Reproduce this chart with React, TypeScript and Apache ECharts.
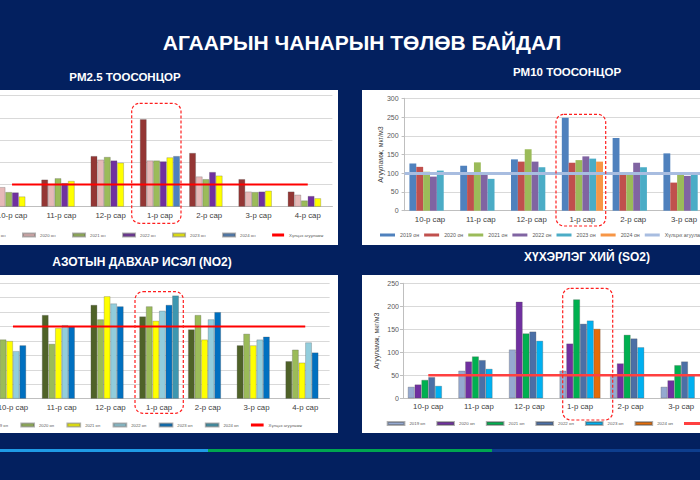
import React, { useEffect, useRef } from 'react';
import * as echarts from 'echarts';

const months = ['10-р сар', '11-р сар', '12-р сар', '1-р сар', '2-р сар', '3-р сар', '4-р сар'];
const years = ['2019 он', '2020 он', '2021 он', '2022 он', '2023 он', '2024 он'];
const LIMIT = 'Хүлцэх агууламж';
const Y_NAME = 'Агууламж, мкг/м3';

const mainTitle = 'АГААРЫН ЧАНАРЫН ТӨЛӨВ БАЙДАЛ';
const pm25Title = 'PM2.5 ТООСОНЦОР';
const pm10Title = 'PM10 ТООСОНЦОР';
const no2Title = 'АЗОТЫН ДАВХАР ИСЭЛ (NO2)';
const so2Title = 'ХҮХЭРЛЭГ ХИЙ (SO2)';

// PM2.5
const pm25_2019 = [60, 61, 114, 197, 121, 62, 34];
const pm25_2020 = [44, 51, 106, 104, 68, 34, 27];
const pm25_2021 = [33, 64, 112, 104, 62, 33, 14];
const pm25_2022 = [32, 53, 104, 102, 78, 34, 24];
const pm25_2023 = [23, 58, 99, 111, 70, 36, 19];
const pm25_2024 = [null, null, null, 114, null, null, null];
const pm25Limit = 50;

// PM10
const pm10_2019 = [126, 120, 137, 248, 194, 153, 110];
const pm10_2020 = [117, 99, 131, 128, 97, 75, 60];
const pm10_2021 = [104, 129, 164, 135, 98, 98, 70];
const pm10_2022 = [91, 98, 131, 145, 128, 93, 75];
const pm10_2023 = [107, 85, 116, 139, 116, 99, 80];
const pm10_2024 = [null, null, null, 131, null, null, null];
const pm10Limit = 100;

// NO2
const no2_2019 = [40, 58, 65, 57, 48, 37, 26];
const no2_2020 = [41, 38, 55, 64, 58, 45, 34];
const no2_2021 = [40, 49, 71, 54, 41, 37, 25];
const no2_2022 = [33, 51, 66, 61, 55, 41, 39];
const no2_2023 = [37, 50, 64, 65, 60, 43, 32];
const no2_2024 = [null, null, null, 71.5, null, null, null];
const no2Limit = 50;

// SO2
const so2_2019 = [25, 60, 106, 60, 48, 25, 20];
const so2_2020 = [30, 80, 210, 119, 76, 39, 30];
const so2_2021 = [40, 91, 141, 215, 138, 72, 40];
const so2_2022 = [46, 83, 145, 162, 130, 80, 45];
const so2_2023 = [27, 64, 125, 169, 111, 50, 35];
const so2_2024 = [null, null, null, 151, null, null, null];
const so2Limit = 50;

const FONT = '"Liberation Sans", Arial, sans-serif';
const NAVY = '#03205F';

type Cfg = {
  grid: { left: number; top: number; width: number; height: number };
  yMax: number;
  yInterval: number;
  values: (number | null)[][];
  colors: string[];
  border: boolean;
  limit: number;
  limitColor: string;
  limitWidth: number;
  limitFull: boolean;
  showYAxis: boolean;
  nameGap: number;
  labelMargin: number;
  legend: { left: number; top: number; itemWidth: number; itemGap: number; fontSize: number };
  box: { x: number; y: number; width: number; height: number };
};

function makeOption(c: Cfg): any {
  const series: any[] = years.map((y, i) => ({
    name: y,
    type: 'bar',
    data: c.values[i],
    barGap: '0%',
    barCategoryGap: '19%',
    itemStyle: {
      color: c.colors[i],
      borderColor: c.border ? 'rgba(80,80,80,0.45)' : undefined,
      borderWidth: c.border ? 0.6 : 0,
    },
    z: 2,
  }));
  if (c.limitFull) {
    series.push({
      name: LIMIT,
      type: 'line',
      data: [],
      symbol: 'none',
      itemStyle: { color: c.limitColor },
      lineStyle: { color: c.limitColor, width: c.limitWidth },
      markLine: {
        silent: true,
        symbol: 'none',
        label: { show: false },
        lineStyle: { color: c.limitColor, width: c.limitWidth, type: 'solid' },
        data: [{ yAxis: c.limit }],
      },
      z: 3,
    });
  } else {
    series.push({
      name: LIMIT,
      type: 'line',
      data: months.map(() => c.limit),
      symbol: 'none',
      itemStyle: { color: c.limitColor },
      lineStyle: { color: c.limitColor, width: c.limitWidth },
      z: 3,
    });
  }
  return {
    animation: false,
    grid: { ...c.grid, containLabel: false, outerBoundsMode: 'none' },
    xAxis: {
      type: 'category',
      data: months,
      axisTick: { show: false },
      axisLine: { lineStyle: { color: '#BFBFBF' } },
      axisLabel: { interval: 0, fontSize: 7.8, color: '#404040', margin: 4.5, fontFamily: FONT },
    },
    yAxis: {
      type: 'value',
      min: 0,
      max: c.yMax,
      interval: c.yInterval,
      name: c.showYAxis ? Y_NAME : '',
      nameLocation: 'middle',
      nameGap: c.nameGap,
      nameMoveOverlap: false,
      nameTextStyle: { fontSize: 7, color: '#404040', fontFamily: FONT },
      axisLine: { show: c.showYAxis, lineStyle: { color: '#BFBFBF' } },
      axisTick: { show: c.showYAxis, length: 3, lineStyle: { color: '#BFBFBF' } },
      axisLabel: { show: c.showYAxis, fontSize: 7, color: '#595959', margin: c.labelMargin, fontFamily: FONT },
      splitLine: { lineStyle: { color: '#D9D9D9', width: 1 } },
    },
    legend: {
      left: c.legend.left,
      top: c.legend.top,
      width: 800,
      padding: 0,
      icon: 'rect',
      itemWidth: c.legend.itemWidth,
      itemHeight: 3,
      itemGap: c.legend.itemGap,
      textStyle: { fontSize: c.legend.fontSize, color: '#595959', fontFamily: FONT },
      data: [...years, LIMIT],
    },
    graphic: [
      {
        type: 'rect',
        shape: { ...c.box, r: 8 },
        style: { fill: 'none', stroke: '#FF1E1E', lineWidth: 1.2, lineDash: [3, 2] },
        z: 100,
      },
    ],
    series,
  };
}

const pm25Opt = makeOption({
  grid: { left: -12.6, top: 5.7, width: 345, height: 111 },
  yMax: 250,
  yInterval: 50,
  values: [pm25_2019, pm25_2020, pm25_2021, pm25_2022, pm25_2023, pm25_2024],
  colors: ['#943634', '#E6B9B8', '#9BBB59', '#7030A0', '#FFFF00', '#4F81BD'],
  border: true,
  limit: pm25Limit,
  limitColor: '#FF0000',
  limitWidth: 2,
  limitFull: false,
  showYAxis: false,
  nameGap: 20,
  labelMargin: 5,
  legend: { left: -28, top: 142.5, itemWidth: 12, itemGap: 16.5, fontSize: 4.3 },
  box: { x: 131.7, y: 13.3, width: 49.3, height: 120 },
});

const pm10Opt = makeOption({
  grid: { left: 42.6, top: 8.3, width: 355.6, height: 112.4 },
  yMax: 300,
  yInterval: 50,
  values: [pm10_2019, pm10_2020, pm10_2021, pm10_2022, pm10_2023, pm10_2024],
  colors: ['#4F81BD', '#C0504D', '#9BBB59', '#8064A2', '#4BACC6', '#F79646'],
  border: false,
  limit: pm10Limit,
  limitColor: '#A8BDE0',
  limitWidth: 3,
  limitFull: true,
  showYAxis: true,
  nameGap: 21,
  labelMargin: 6,
  legend: { left: 18, top: 142.5, itemWidth: 15, itemGap: 5, fontSize: 5.3 },
  box: { x: 194, y: 24.3, width: 49.7, height: 111.7 },
});

const no2Opt = makeOption({
  grid: { left: -11.4, top: 8.3, width: 341, height: 115.4 },
  yMax: 80,
  yInterval: 10,
  values: [no2_2019, no2_2020, no2_2021, no2_2022, no2_2023, no2_2024],
  colors: ['#4F6228', '#9BBB59', '#FFFF00', '#92CDDC', '#0070C0', '#3E97B0'],
  border: true,
  limit: no2Limit,
  limitColor: '#FF0000',
  limitWidth: 2,
  limitFull: false,
  showYAxis: false,
  nameGap: 20,
  labelMargin: 5,
  legend: { left: -25.8, top: 147.5, itemWidth: 12.7, itemGap: 12.3, fontSize: 4.2 },
  box: { x: 135, y: 16.7, width: 48.3, height: 121.6 },
});

const so2Opt = makeOption({
  grid: { left: 41, top: 8.3, width: 354, height: 115 },
  yMax: 250,
  yInterval: 50,
  values: [so2_2019, so2_2020, so2_2021, so2_2022, so2_2023, so2_2024],
  colors: ['#95A9D0', '#7030A0', '#00B050', '#4B6FA6', '#00B0F0', '#E36C09'],
  border: true,
  limit: so2Limit,
  limitColor: '#FF4040',
  limitWidth: 2.5,
  limitFull: false,
  showYAxis: true,
  nameGap: 23,
  labelMargin: 4,
  legend: { left: 24.7, top: 146, itemWidth: 16.7, itemGap: 11, fontSize: 4.4 },
  box: { x: 200.7, y: 13.3, width: 50, height: 131.7 },
});

const bgOpt: any = {
  animation: false,
  graphic: [
    { type: 'rect', shape: { x: 0, y: 0, width: 700, height: 480 }, style: { fill: NAVY } },
    { type: 'rect', shape: { x: 0, y: 90, width: 338, height: 155 }, style: { fill: '#FFFFFF' } },
    { type: 'rect', shape: { x: 362, y: 90, width: 338, height: 155 }, style: { fill: '#FFFFFF' } },
    { type: 'rect', shape: { x: 0, y: 275, width: 338, height: 158 }, style: { fill: '#FFFFFF' } },
    { type: 'rect', shape: { x: 362, y: 275, width: 338, height: 158 }, style: { fill: '#FFFFFF' } },
    { type: 'rect', shape: { x: 0, y: 449, width: 208, height: 3 }, style: { fill: '#1F9BE6' } },
    { type: 'rect', shape: { x: 208, y: 449, width: 284, height: 3 }, style: { fill: '#00A650' } },
    { type: 'rect', shape: { x: 492, y: 449, width: 208, height: 3 }, style: { fill: '#0E3E8E' } },
    {
      type: 'text', x: 362, y: 42,
      style: { text: mainTitle, fill: '#FFFFFF', font: `bold 21px ${FONT}`, textAlign: 'center', textVerticalAlign: 'middle' },
    },
    {
      type: 'text', x: 125, y: 77,
      style: { text: pm25Title, fill: '#FFFFFF', font: `bold 11.5px ${FONT}`, textAlign: 'center', textVerticalAlign: 'middle' },
    },
    {
      type: 'text', x: 567, y: 72,
      style: { text: pm10Title, fill: '#FFFFFF', font: `bold 11.5px ${FONT}`, textAlign: 'center', textVerticalAlign: 'middle' },
    },
    {
      type: 'text', x: 142, y: 262,
      style: { text: no2Title, fill: '#FFFFFF', font: `bold 12px ${FONT}`, textAlign: 'center', textVerticalAlign: 'middle' },
    },
    {
      type: 'text', x: 587, y: 257,
      style: { text: so2Title, fill: '#FFFFFF', font: `bold 12px ${FONT}`, textAlign: 'center', textVerticalAlign: 'middle' },
    },
  ],
};

function EChart({ option, rect }: { option: any; rect: { left: number; top: number; width: number; height: number } }) {
  const ref = useRef<HTMLDivElement>(null);
  useEffect(() => {
    if (!ref.current) return;
    const chart = echarts.init(ref.current, null, { renderer: 'svg' });
    chart.setOption(option);
    return () => chart.dispose();
  }, [option]);
  return (
    <div
      ref={ref}
      style={{ position: 'absolute', overflow: 'hidden', left: rect.left, top: rect.top, width: rect.width, height: rect.height }}
    />
  );
}

export default function App() {
  return (
    <div style={{ position: 'fixed', left: 0, top: 0, width: 700, height: 480, overflow: 'hidden', background: NAVY }}>
      <EChart option={bgOpt} rect={{ left: 0, top: 0, width: 700, height: 480 }} />
      <EChart option={pm25Opt} rect={{ left: 0, top: 90, width: 338, height: 155 }} />
      <EChart option={pm10Opt} rect={{ left: 362, top: 90, width: 338, height: 155 }} />
      <EChart option={no2Opt} rect={{ left: 0, top: 275, width: 338, height: 158 }} />
      <EChart option={so2Opt} rect={{ left: 362, top: 275, width: 338, height: 158 }} />
    </div>
  );
}
